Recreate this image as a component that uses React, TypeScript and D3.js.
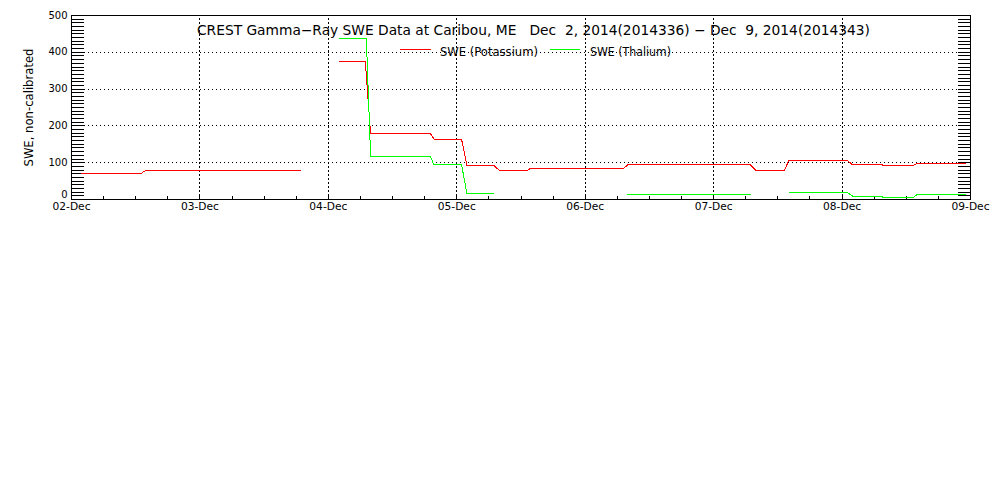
import React from "react";
import * as d3 from "d3";

// ---- data (hours since 02-Dec-2014 00:00) ----
const dayLabels = ["02-Dec", "03-Dec", "04-Dec", "05-Dec", "06-Dec", "07-Dec", "08-Dec", "09-Dec"];
const yTicks = [0, 100, 200, 300, 400, 500];

const potassiumHours = [1.7, 12.9, 13.8, 42.9, null, 50.0, 54.9, 55.9, 67.1, 67.8, 72.9, 73.9, 79.0, 80.0, 85.0, 85.6, 103.1, 103.9, 126.9, 128.0, 133.2, 134.0, 145.1, 145.9, 151.5, 151.7, 157.3, 157.9, 167.2];
const potassiumSWE = [70, 70, 78, 78, null, 375, 375, 178, 178, 163, 163, 92, 92, 78, 78, 83, 83, 94, 94, 78, 78, 105, 105, 95, 95, 92, 92, 97, 97];

const thaliumHours = [50.0, 55.1, 55.9, 67.1, 67.7, 72.9, 73.9, 78.9, null, 103.8, 127.0, null, 134.0, 145.1, 146.0, 151.5, 151.7, 157.3, 158.0, 167.2];
const thaliumSWE = [437, 437, 117, 117, 94, 94, 15.5, 15.5, null, 13.6, 13.6, null, 18, 18, 9, 9, 4.6, 4.6, 13.6, 13.6];

const titleText = "CREST Gamma\u2212Ray SWE Data at Caribou, ME \u00a0 Dec \u00a02, 2014(2014336) \u2212 Dec \u00a09, 2014(2014343)";
const yLabel = "SWE, non-calibrated";
const legendItems = [
  { name: "SWE (Potassium)", color: "#ff0000" },
  { name: "SWE (Thalium)", color: "#00ff00" },
];

type Pt = { h: number | null; v: number | null };
const zip = (hs: (number | null)[], vs: (number | null)[]): Pt[] => hs.map((h, i) => ({ h, v: vs[i] }));

export default function App() {
  const W = 1000, H = 500;
  const x = d3.scaleLinear().domain([0, 168]).range([71.5, 970.5]);
  const y = d3.scaleLinear().domain([0, 500]).range([199.5, 15.5]);
  const font = "'DejaVu Sans', sans-serif";

  const line = d3
    .line<Pt>()
    .defined((d) => d.h != null && d.v != null)
    .x((d) => x(d.h as number))
    .y((d) => y(d.v as number));

  const minorY = d3.range(0, 501, 10);
  const minorX = d3.range(0, 169, 6);
  const dayTicks = d3.range(0, 169, 24);

  const x0 = x(0), x1 = x(168), y0 = y(0), y1 = y(500);

  return (
    <svg width={W} height={H} style={{ position: "absolute", left: 0, top: 0, background: "#fff" }} fontFamily={font}>
      <rect x={0} y={0} width={W} height={H} fill="#fff" />
      {/* horizontal dotted gridlines */}
      {yTicks.filter((t) => t > 0 && t < 500).map((t) => (
        <line key={"hg" + t} x1={x0} x2={x1} y1={y(t)} y2={y(t)} stroke="#000" strokeDasharray="1 3" shapeRendering="crispEdges" />
      ))}
      {/* vertical dotted gridlines */}
      {dayTicks.filter((t) => t > 0 && t < 168).map((t) => (
        <line key={"vg" + t} x1={x(t)} x2={x(t)} y1={y0} y2={y1} stroke="#000" strokeDasharray="2 2" shapeRendering="crispEdges" />
      ))}
      {/* minor y ticks both sides */}
      {minorY.map((t) => (
        <g key={"my" + t}>
          <line x1={x0} x2={x0 + 12} y1={y(t)} y2={y(t)} stroke="#000" shapeRendering="crispEdges" />
          <line x1={x1 - 13} x2={x1} y1={y(t)} y2={y(t)} stroke="#000" shapeRendering="crispEdges" />
        </g>
      ))}
      {/* minor x ticks */}
      {minorX.map((t) => (
        <line key={"mx" + t} x1={x(t)} x2={x(t)} y1={y0} y2={y0 - 4} stroke="#000" shapeRendering="crispEdges" />
      ))}
      {/* frame */}
      <rect x={x0} y={y1} width={x1 - x0} height={y0 - y1} fill="none" stroke="#000" shapeRendering="crispEdges" />

      {/* series */}
      <path d={line(zip(potassiumHours, potassiumSWE)) || ""} fill="none" stroke="#ff0000" strokeWidth={1} shapeRendering="crispEdges" />
      <path d={line(zip(thaliumHours, thaliumSWE)) || ""} fill="none" stroke="#00ff00" strokeWidth={1} shapeRendering="crispEdges" />

      {/* y tick labels */}
      {yTicks.map((t) => (
        <text key={"yl" + t} x={67.5} y={t === 0 ? y(t) - 1.5 : y(t) + 3} fontSize={10} textAnchor="end">
          {t}
        </text>
      ))}
      {/* x tick labels */}
      {dayTicks.map((t, i) => (
        <text key={"xl" + t} x={x(t)} y={209.5} fontSize={10} textAnchor="middle" textLength={38} lengthAdjust="spacingAndGlyphs">
          {dayLabels[i]}
        </text>
      ))}
      {/* y axis title */}
      <text transform="translate(32.5,107.5) rotate(-90)" fontSize={13} textAnchor="middle" textLength={118} lengthAdjust="spacingAndGlyphs">
        {yLabel}
      </text>
      {/* title */}
      <text x={197} y={35} fontSize={13.5} textLength={673} lengthAdjust="spacingAndGlyphs" xmlSpace="preserve">
        {titleText}
      </text>
      {/* legend */}
      <line x1={400} x2={431} y1={49.5} y2={49.5} stroke={legendItems[0].color} shapeRendering="crispEdges" />
      <text x={440} y={56} fontSize={12.5} textLength={98} lengthAdjust="spacingAndGlyphs">{legendItems[0].name}</text>
      <line x1={550} x2={580} y1={49.5} y2={49.5} stroke={legendItems[1].color} shapeRendering="crispEdges" />
      <text x={590} y={56} fontSize={12.5} textLength={81} lengthAdjust="spacingAndGlyphs">{legendItems[1].name}</text>
    </svg>
  );
}
